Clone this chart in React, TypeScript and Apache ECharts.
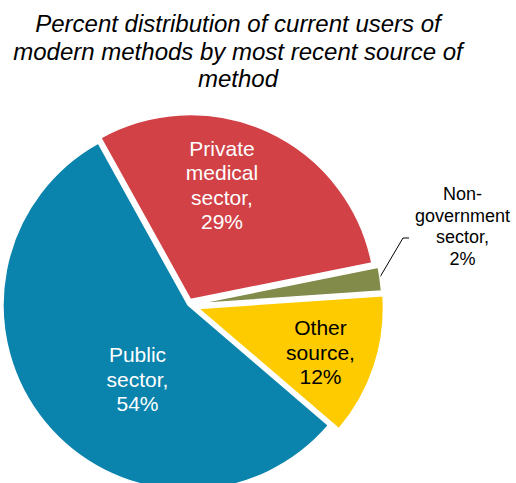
import React, { useEffect, useRef } from 'react';
import * as echarts from 'echarts';

// ---- data ----
const categories = ['Private\nmedical\nsector', 'Non-\ngovernment\nsector', 'Other\nsource', 'Public\nsector'];
const values = [29, 2, 12, 54];
const colors = ['#d14146', '#838b4a', '#fecb00', '#0a83ad'];
const labelColors = ['#ffffff', '#000000', '#000000', '#ffffff'];
const titleLines = [
  'Percent distribution of current users of',
  'modern methods by most recent source of',
  'method',
];

// ---- layout / style ----
const explode = [6, 9, 11, 0];
const CENTER = [188, 305];
const RADIUS = 185;
const START_ANGLE = 119;
const FONT = '"Liberation Sans", Arial, sans-serif';
const labelPos: number[][] = [[222, 185], [462.5, 226.6], [320.5, 352], [137.5, 379.4]];
const labelSizes = [21, 18, 21, 21];
const labelLineHeights = [24.5, 21.5, 24.5, 24.5];
const leaderPoints: number[][] = [[380, 277], [403, 238], [409, 238]];

const sliceSeries = (k: number) => ({
  type: 'pie',
  center: CENTER,
  radius: [0, RADIUS],
  startAngle: START_ANGLE,
  clockwise: true,
  avoidLabelOverlap: false,
  silent: true,
  selectedMode: 'multiple',
  selectedOffset: explode[k],
  label: { show: false },
  labelLine: { show: false },
  emphasis: { disabled: true },
  data: values.map((v, i) => ({
    name: categories[i],
    value: v,
    selected: i === k && explode[k] > 0,
    itemStyle:
      i === k
        ? { color: colors[i], borderColor: '#ffffff', borderWidth: 1.5 }
        : { color: 'rgba(0,0,0,0)', borderWidth: 0 },
  })),
});

const labelSeries = {
  type: 'pie',
  center: CENTER,
  radius: [0, RADIUS],
  startAngle: START_ANGLE,
  clockwise: true,
  avoidLabelOverlap: false,
  silent: true,
  emphasis: { disabled: true },
  minShowLabelAngle: 0,
  labelLayout: (params: any) => {
    const i = params.dataIndex;
    const out: any = {
      x: labelPos[i][0],
      y: labelPos[i][1],
      align: 'center',
      verticalAlign: 'middle',
    };
    if (i === 1) out.labelLinePoints = leaderPoints;
    return out;
  },
  data: values.map((v, i) => ({
    name: categories[i],
    value: v,
    itemStyle: { color: 'rgba(0,0,0,0)', borderWidth: 0 },
    label: {
      show: true,
      position: i === 1 ? 'outside' : 'inside',
      formatter: '{b},\n{c}%',
      color: labelColors[i],
      fontSize: labelSizes[i],
      lineHeight: labelLineHeights[i],
      fontFamily: FONT,
      align: 'center',
    },
    labelLine: {
      show: i === 1,
      length: 20,
      length2: 6,
      lineStyle: { color: '#000000', width: 1 },
    },
  })),
};

export default function App() {
  const ref = useRef<HTMLDivElement>(null);
  useEffect(() => {
    document.body.style.margin = '0';
    const chart = echarts.init(ref.current!, undefined, { renderer: 'svg' });
    chart.setOption({
      animation: false,
      backgroundColor: '#ffffff',
      title: {
        text: titleLines.join('\n'),
        left: 238,
        top: 10,
        padding: 0,
        textAlign: 'center',
        textStyle: {
          fontFamily: FONT,
          fontSize: 24,
          fontStyle: 'italic',
          fontWeight: 'normal',
          color: '#000000',
          lineHeight: 27.5,
        },
      },
      series: [sliceSeries(3), sliceSeries(0), sliceSeries(1), sliceSeries(2), labelSeries],
    });
    return () => chart.dispose();
  }, []);
  return (
    <div
      ref={ref}
      style={{ position: 'fixed', left: 0, top: 0, width: 516, height: 483 }}
    />
  );
}
